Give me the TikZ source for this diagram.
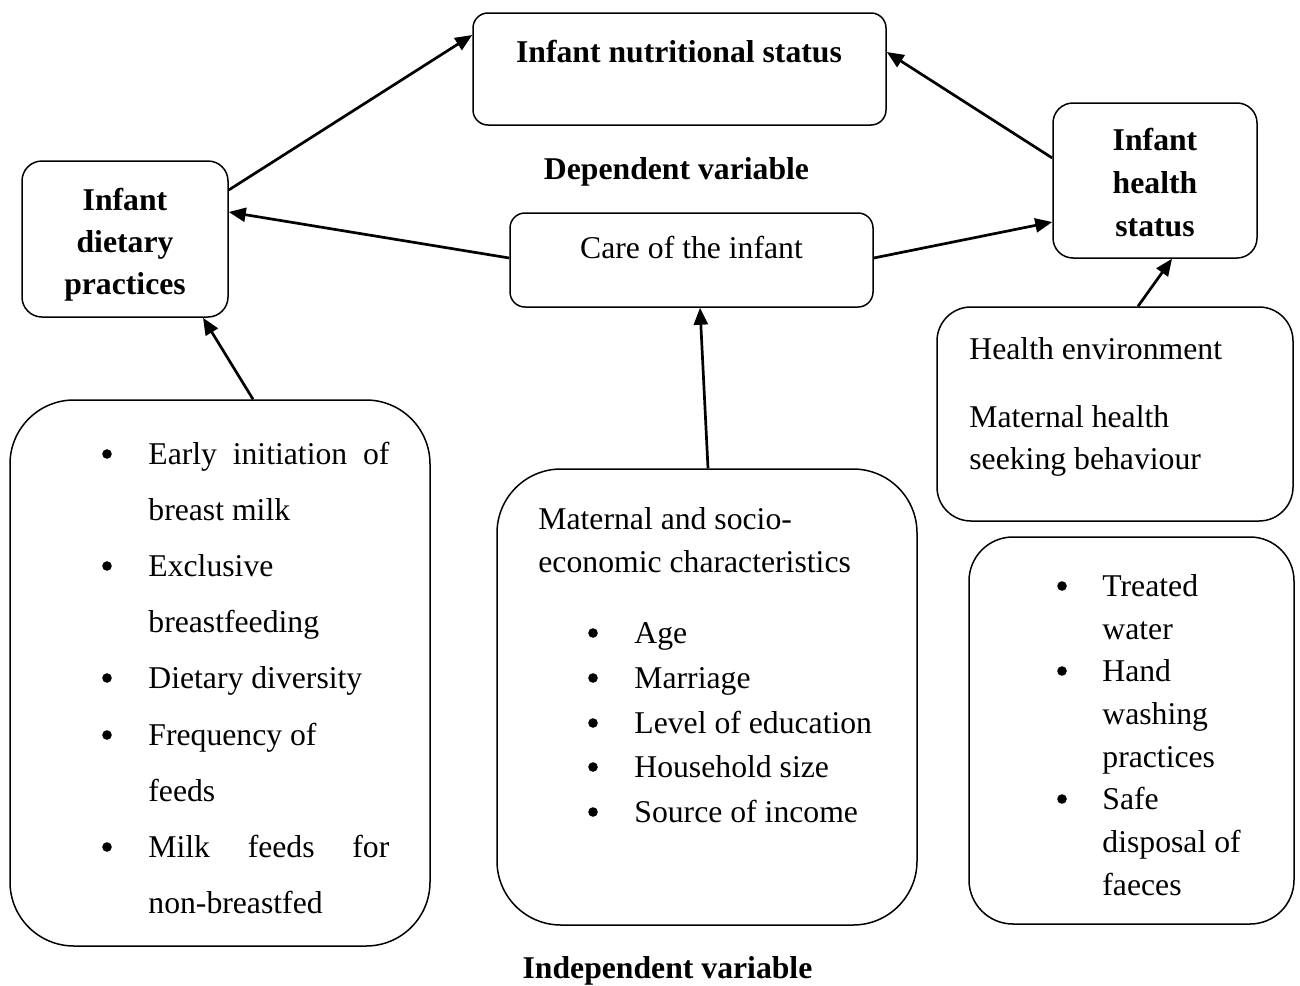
\documentclass[tikz,border=0pt]{standalone}
\usepackage{fontspec}
\setmainfont{Liberation Serif}
\usetikzlibrary{arrows.meta,calc}
\begin{document}
\begin{tikzpicture}[x=0.5pt,y=-0.5pt,
  box/.style={draw, line width=0.75pt, rounded corners=#1, inner sep=0pt},
  arr/.style={line width=1.35pt, -{Triangle[length=8.5pt,width=7pt]}},
  txt/.style={inner sep=0pt, anchor=base west, font=\fontsize{15.85}{19}\selectfont},
  ctxt/.style={inner sep=0pt, anchor=base, font=\fontsize{15.85}{19}\selectfont},
  btxt/.style={inner sep=0pt, anchor=base, font=\fontsize{15.85}{19}\selectfont\bfseries},
  bul/.style={circle, fill, inner sep=0pt, minimum size=4.8pt}]
\useasboundingbox (0,0) rectangle (1300,985);
% boxes
\node[box=7.5pt, minimum width=206.5pt, minimum height=56pt] (tns) at (679.5,69) {};
\node[box=10pt, minimum width=103pt, minimum height=78pt] (ldp) at (125,239) {};
\node[box=7.5pt, minimum width=181.5pt, minimum height=47pt] (care) at (691.5,260) {};
\node[box=10pt, minimum width=102pt, minimum height=77.5pt] (ihs) at (1155,180.5) {};
\node[box=32pt, minimum width=210pt, minimum height=273pt] (lb) at (220,673) {};
\node[box=32pt, minimum width=210pt, minimum height=228pt] (mb) at (707,697) {};
\node[box=17pt, minimum width=178pt, minimum height=107pt] (he) at (1115,414) {};
\node[box=22pt, minimum width=162.5pt, minimum height=193.5pt] (rb) at (1131.5,730.5) {};
% arrows
\draw[arr] ($(ldp.east)+(0,-49)$) -- ($(tns.west)+(0,-34)$);
\draw[arr] ($(ihs.west)+(0,-22.5)$) -- ($(tns.east)+(0,-17)$);
\draw[arr] ($(care.west)+(0,-2)$) -- ($(ldp.east)+(0,-27)$);
\draw[arr] ($(care.east)+(0,-2)$) -- ($(ihs.west)+(0,41.5)$);
\draw[arr] ($(lb.north)+(33,0)$) -- ($(ldp.south)+(78,0)$);
\draw[arr] ($(mb.north)+(1,0)$) -- ($(care.south)+(8.5,0)$);
\draw[arr] ($(he.north)+(23,0)$) -- ($(ihs.south)+(17,0)$);
% top texts
\node[btxt] (tnsT) at (679,62) {Infant nutritional status};
\node[btxt] (depT) at (676.5,179) {Dependent variable};
\node[btxt] (ldp1) at (125,210) {Infant};
\node[btxt] (ldp2) at (125,252) {dietary};
\node[btxt] (ldp3) at (125,294) {practices};
\node[btxt] (ihs1) at (1155,150) {Infant};
\node[btxt] (ihs2) at (1155,193) {health};
\node[btxt] (ihs3) at (1155,236) {status};
\node[ctxt] (careT) at (691.5,258) {Care of the infant};
% health environment
\node[txt] (he1) at (969,359) {Health environment};
\node[txt] (he2) at (969,427) {Maternal health};
\node[txt] (he3) at (969,469) {seeking behaviour};
% left bottom list
\node[bul] (lbb1) at (107,454) {};
\node[bul] (lbb2) at (107,566) {};
\node[bul] (lbb3) at (107,678) {};
\node[bul] (lbb4) at (107,735) {};
\node[bul] (lbb5) at (107,847) {};
\node[txt] (lb1) at (148,464) {\makebox[120.5pt][s]{Early initiation of}};
\node[txt] (lb2) at (148,520) {breast milk};
\node[txt] (lb3) at (148,576) {Exclusive};
\node[txt] (lb4) at (148,632) {breastfeeding};
\node[txt] (lb5) at (148,688) {Dietary diversity};
\node[txt] (lb6) at (148,745) {Frequency of};
\node[txt] (lb7) at (148,801) {feeds};
\node[txt] (lb8) at (148,857) {\makebox[120.5pt][s]{Milk feeds for}};
\node[txt] (lb9) at (148,913) {non-breastfed};
% middle bottom list
\node[txt] (mb1) at (538,529) {Maternal and socio-};
\node[txt] (mb2) at (538,572) {economic characteristics};
\node[bul] (mbb1) at (593,633) {};
\node[bul] (mbb2) at (593,678) {};
\node[bul] (mbb3) at (593,723) {};
\node[bul] (mbb4) at (593,767) {};
\node[bul] (mbb5) at (593,812) {};
\node[txt] (mb3) at (634,643) {Age};
\node[txt] (mb4) at (634,688) {Marriage};
\node[txt] (mb5) at (634,733) {Level of education};
\node[txt] (mb6) at (634,777) {Household size};
\node[txt] (mb7) at (634,822) {Source of income};
% right bottom list
\node[bul] (rbb1) at (1062,586) {};
\node[bul] (rbb2) at (1062,671) {};
\node[bul] (rbb3) at (1062,799) {};
\node[txt] (rb1) at (1102,596) {Treated};
\node[txt] (rb2) at (1102,639) {water};
\node[txt] (rb3) at (1102,681) {Hand};
\node[txt] (rb4) at (1102,724) {washing};
\node[txt] (rb5) at (1102,767) {practices};
\node[txt] (rb6) at (1102,809) {Safe};
\node[txt] (rb7) at (1102,852) {disposal of};
\node[txt] (rb8) at (1102,895) {faeces};
% bottom label
\node[btxt] (indT) at (667.5,978) {Independent variable};
\end{tikzpicture}
\end{document}
